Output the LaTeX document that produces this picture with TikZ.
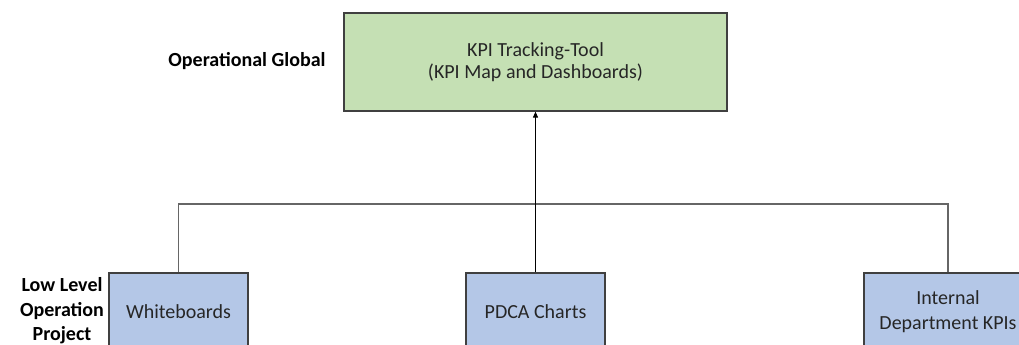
\documentclass[tikz,border=0pt]{standalone}
\usepackage{fontspec}
\setmainfont{Carlito}
\usetikzlibrary{arrows.meta}
\definecolor{boxgreen}{HTML}{C5E0B4}
\definecolor{boxblue}{HTML}{B4C7E7}
\definecolor{edge}{HTML}{404040}
\definecolor{txt}{HTML}{262626}
\begin{document}
\begin{tikzpicture}[x=1pt,y=-1pt,
  topbox/.style={draw=edge, line width=1.2pt, fill=boxgreen, text=txt, align=center, inner sep=0pt, font=\fontsize{20}{22}\selectfont},
  lowbox/.style={draw=edge, line width=1.2pt, fill=boxblue, text=txt, align=center, inner sep=0pt, font=\fontsize{20}{25}\selectfont},
  lbl/.style={align=center, font=\bfseries\fontsize{20}{24.5}\selectfont, text=black},
  tree/.style={draw=edge!80, line width=1.8pt},
  up/.style={draw=black, line width=1pt, -{Triangle[length=6pt,width=5pt]}}]
\useasboundingbox (0,0) rectangle (1019,345);
\clip (0,0) rectangle (1019,345);
\node[topbox, minimum width=383pt, minimum height=98pt] (top) at (535.5,62) {KPI Tracking-Tool\\(KPI Map and Dashboards)};
\node[lowbox, minimum width=139pt, minimum height=78pt] (wb) at (178.5,312) {Whiteboards};
\node[lowbox, minimum width=139pt, minimum height=78pt] (pdca) at (535.5,312) {PDCA Charts};
\node[lowbox, minimum width=168pt, minimum height=78pt] (idk) at (948,312) {Internal\\Department KPIs};
\node[lbl] (og) at (247,61) {Operational Global};
\node[lbl] (ll) at (62,311) {Low Level\\Operation\\Project};
\coordinate (hl) at (178.5,204);
\coordinate (hr) at (948,204);
\draw[tree] (wb.north) -- (hl) -- (hr) -- (idk.north);
\draw[up] (pdca.north) -- (top.south);
\end{tikzpicture}
\end{document}
